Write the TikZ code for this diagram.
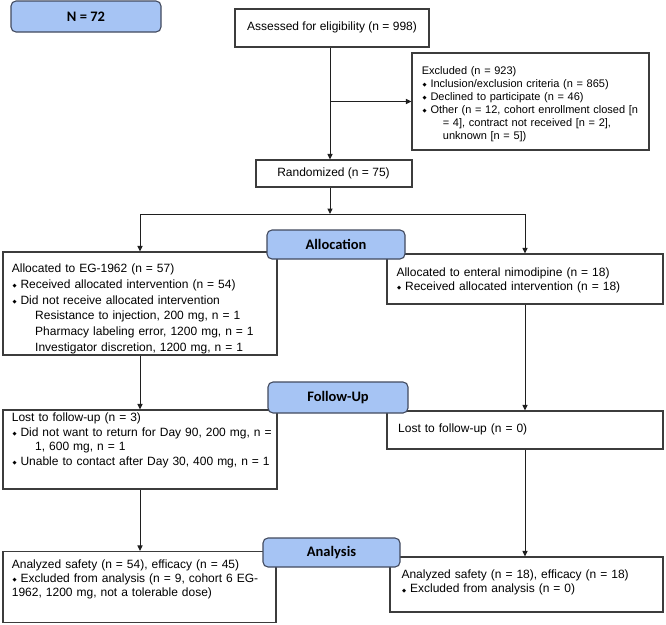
\documentclass[tikz,border=0pt]{standalone}
\usepackage{fontspec}
\setmainfont{Liberation Sans}
\newfontfamily\labfont{Carlito}
\newfontfamily\djv{DejaVu Sans}
\usetikzlibrary{arrows.meta}
\definecolor{labfill}{RGB}{166,196,244}
\definecolor{labline}{RGB}{66,74,94}
\definecolor{boxline}{RGB}{60,60,60}
\newcommand\bl{\makebox[8.6pt][l]{\hspace{0.6pt}\raisebox{0.8pt}{\djv\fontsize{5.3}{6}\selectfont ◆}}}
\newcommand\fl{\rule{0pt}{10pt}}
\begin{document}
\begin{tikzpicture}[x=1pt,y=-1pt,
  box/.style={draw=boxline, line width=1.1pt, fill=white, inner sep=0pt},
  labbox/.style={draw=labline, line width=1.1pt, fill=labfill, rounded corners=5pt, inner sep=0pt,
     font=\labfont\bfseries\fontsize{14.5}{16}\selectfont},
  txt/.style={anchor=north west, inner sep=0pt, align=left, text width=300pt,
     font=\fontsize{12}{#1}\selectfont},
  smalltxt/.style={anchor=north west, inner sep=0pt, align=left, text width=300pt,
     font=\fontsize{11}{#1}\selectfont},
  one/.style={anchor=base, inner sep=0pt, font=\fontsize{12}{14}\selectfont},
  arr/.style={draw=black!88, line width=1pt, -{Triangle[length=5.5pt,width=5pt]}},
  ln/.style={draw=black!88, line width=1pt}]
\useasboundingbox (0,0) rectangle (666,624);

% main boxes
\node[box, minimum width=194pt, minimum height=38pt] (assess) at (332,28) {};
\node[box, minimum width=237pt, minimum height=97pt] (excl) at (530.5,101.5) {};
\node[box, minimum width=156pt, minimum height=27pt] (rand) at (334,173.5) {};
\node[box, minimum width=274pt, minimum height=103pt] (lalloc) at (140,303.5) {};
\node[box, minimum width=276pt, minimum height=50pt] (ralloc) at (525,279) {};
\node[box, minimum width=274pt, minimum height=79pt] (llost) at (140,449.5) {};
\node[box, minimum width=276pt, minimum height=38pt] (rlost) at (525,430) {};
\node[box, minimum width=273pt, minimum height=71pt] (lana) at (139.5,587) {};
\node[box, minimum width=273pt, minimum height=55pt] (rana) at (526.5,584.5) {};

% texts
\node[one] (assesstxt) at (332,30.5) {Assessed for eligibility (n = 998)};
\node[one] (randtxt) at (333.5,176.5) {Randomized (n = 75)};
\node[smalltxt=13] (excltxt) at (421.7,64.5) {\fl Excluded (n = 923)\\
\bl Inclusion/exclusion criteria (n = 865)\\
\bl Declined to participate (n = 46)\\
\bl Other (n = 12, cohort enrollment closed [n\\
\hspace*{21pt}= 4], contract not received [n = 2],\\
\hspace*{21pt}unknown [n = 5])};
\node[txt=15.7] (lalloctxt) at (11.7,262.5) {\fl Allocated to EG-1962 (n = 57)\\
\bl Received allocated intervention (n = 54)\\
\bl Did not receive allocated intervention\\
\hspace*{23.3pt}Resistance to injection, 200 mg, n = 1\\
\hspace*{23.3pt}Pharmacy labeling error, 1200 mg, n = 1\\
\hspace*{23.3pt}Investigator discretion, 1200 mg, n = 1};
\node[txt=14.3] (ralloctxt) at (396.3,266) {\fl Allocated to enteral nimodipine (n = 18)\\
\bl Received allocated intervention (n = 18)};
\node[txt=14.7] (llosttxt) at (11.7,411.2) {\fl Lost to follow-up (n = 3)\\
\bl Did not want to return for Day 90, 200 mg, n =\\
\hspace*{23.3pt}1, 600 mg, n = 1\\
\bl Unable to contact after Day 30, 400 mg, n = 1};
\node[txt=14] (rlosttxt) at (398,422.6) {\fl Lost to follow-up (n = 0)};
\node[txt=13.7] (lanatxt) at (11.7,558.6) {\fl Analyzed safety (n = 54), efficacy (n = 45)\\
\bl Excluded from analysis (n = 9, cohort 6 EG-\\
1962, 1200 mg, not a tolerable dose)};
\node[txt=14.3] (ranatxt) at (401.3,568.3) {\fl Analyzed safety (n = 18), efficacy (n = 18)\\
\bl Excluded from analysis (n = 0)};

% connectors
\coordinate (spine) at (330,0);
\coordinate (split) at (330,214);
\draw[arr] (assess.south -| spine) -- (rand.north -| spine);
\draw[arr] (spine |- excl.west) -- (excl.west);
\draw[arr] (rand.south -| spine) -- (split);
\draw[arr] (split) -| (lalloc.north);
\draw[arr] (split) -| (ralloc.north);
\draw[arr] (lalloc.south) -- (llost.north);
\draw[arr] (ralloc.south) -- (rlost.north);
\draw[arr] (llost.south) -- (llost.south |- lana.north);
\draw[arr] (rlost.south) -- (rlost.south |- rana.north);

% label boxes
\node[labbox, minimum width=150pt, minimum height=31pt] (nlab) at (86,16.5) {N = 72};
\node[labbox, minimum width=138pt, minimum height=29pt] (alloclab) at (336,244.5) {Allocation};
\node[labbox, minimum width=140pt, minimum height=31pt] (followlab) at (338,397.5) {Follow-Up};
\node[labbox, minimum width=137pt, minimum height=29pt] (analab) at (331.5,552.5) {Analysis};
\end{tikzpicture}
\end{document}
